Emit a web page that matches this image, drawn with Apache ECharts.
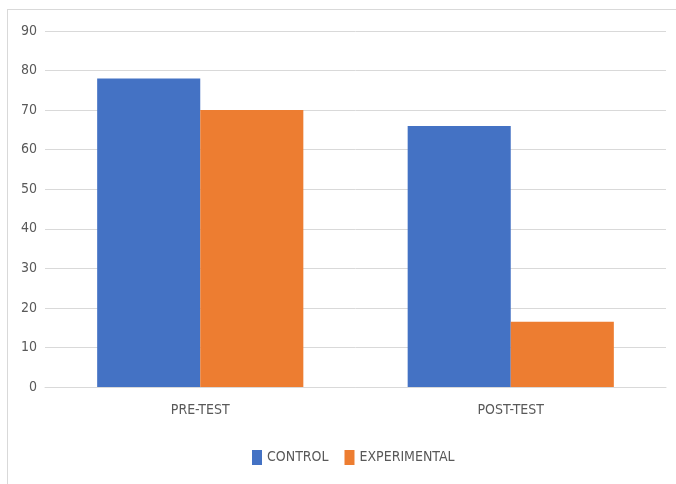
<!DOCTYPE html>
<html>
<head>
<meta charset="utf-8">
<script src="https://cdn.jsdelivr.net/npm/echarts@6/dist/echarts.min.js"></script>
<style>
  html, body { margin: 0; padding: 0; background: #fff; }
  #frame { position: absolute; left: 7px; top: 9px; width: 680px; height: 490px; border: 1px solid #d9d9d9; box-sizing: border-box; }
  #chart { position: absolute; left: 0; top: 0; width: 676px; height: 484px; }
</style>
</head>
<body>
<div id="frame"></div>
<div id="chart"></div>
<script>
const categories = ['PRE-TEST', 'POST-TEST'];
const controlValues = [78, 66];
const experimentalValues = [70, 16.5];
const yTicks = { min: 0, max: 90, interval: 10 };

// condensed face, close to the narrow office font of the original
const font = '"DejaVu Sans Condensed", "DejaVu Sans", sans-serif';
const stretch = 'condensed';
const textColor = '#595959';

const chart = echarts.init(document.getElementById('chart'), null, { renderer: 'canvas' });

const option = {
  animation: false,
  grid: { left: 45, right: 10, top: 31, bottom: 97, containLabel: false },
  legend: {
    left: 252,
    top: 450,
    padding: 0,
    itemWidth: 10,
    itemHeight: 15,
    itemGap: 16,
    icon: 'rect',
    textStyle: { color: textColor, fontSize: 14, fontFamily: font, fontWeight: stretch },
    data: ['CONTROL', 'EXPERIMENTAL'],
  },
  xAxis: {
    type: 'category',
    data: categories,
    axisLine: { show: true, lineStyle: { color: '#d9d9d9', width: 1 } },
    axisTick: { show: false },
    axisLabel: { color: textColor, fontSize: 14, fontFamily: font, fontWeight: stretch, margin: 16 },
  },
  yAxis: {
    type: 'value',
    min: yTicks.min,
    max: yTicks.max,
    interval: yTicks.interval,
    axisLine: { show: false },
    axisTick: { show: false },
    axisLabel: { color: textColor, fontSize: 14, fontFamily: font, fontWeight: stretch, margin: 8 },
    splitLine: { lineStyle: { color: '#d9d9d9', width: 1 } },
  },
  series: [
    {
      name: 'CONTROL',
      type: 'bar',
      data: controlValues,
      barGap: '0%',
      barCategoryGap: '33.6%',
      itemStyle: { color: '#4472C4' },
    },
    {
      name: 'EXPERIMENTAL',
      type: 'bar',
      data: experimentalValues,
      barGap: '0%',
      barCategoryGap: '33.6%',
      itemStyle: { color: '#ED7D31' },
    },
  ],
};

chart.setOption(option);
</script>
</body>
</html>
